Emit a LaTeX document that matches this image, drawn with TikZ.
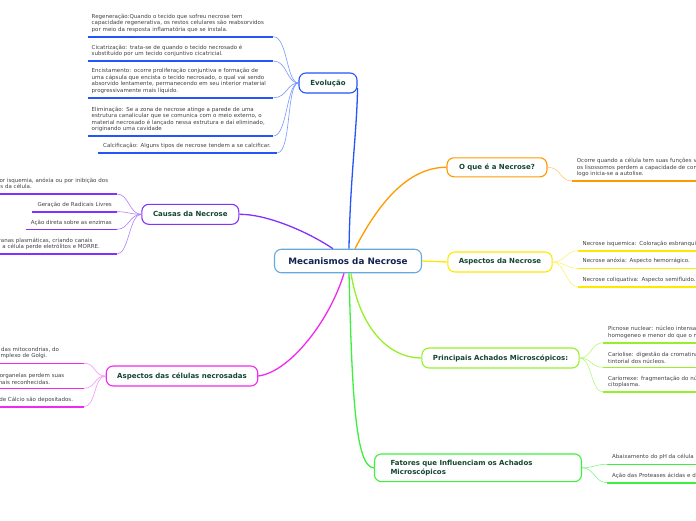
\documentclass[tikz,border=0pt]{standalone}
\usepackage{fontspec}
\setmainfont{DejaVu Sans}
\usetikzlibrary{calc, positioning}
\definecolor{centralline}{RGB}{100,170,225}
\definecolor{centraltext}{RGB}{20,35,80}
\definecolor{topictext}{RGB}{20,70,50}
\definecolor{leaftext}{RGB}{65,65,65}
\definecolor{evoC}{RGB}{35,85,250}
\definecolor{evoT}{RGB}{120,150,255}
\definecolor{oqueC}{RGB}{255,153,0}
\definecolor{oqueT}{RGB}{255,200,120}
\definecolor{causC}{RGB}{130,50,255}
\definecolor{causT}{RGB}{175,125,255}
\definecolor{aspC}{RGB}{255,232,0}
\definecolor{aspT}{RGB}{255,240,110}
\definecolor{achC}{RGB}{150,240,40}
\definecolor{achT}{RGB}{185,245,120}
\definecolor{fatC}{RGB}{60,240,60}
\definecolor{fatT}{RGB}{130,245,130}
\definecolor{celC}{RGB}{240,40,240}
\definecolor{celT}{RGB}{245,150,245}
\newcommand{\leaffont}{\fontsize{5.5}{6.5}\selectfont}
\newcommand{\topicfont}{\fontsize{7}{9}\selectfont\bfseries}

\begin{document}
\begin{tikzpicture}[x=1pt, y=-1pt,
  topic/.style={draw, fill=white, rounded corners=7pt, line width=1.1pt,
    font=\topicfont, text=topictext, minimum height=20pt, inner xsep=11pt},
  leaf/.style={font=\leaffont, text=leaftext, align=left, inner xsep=5pt, inner ysep=4pt},
  under/.style={line width=1.6pt},
  twig/.style={line width=0.6pt},
  limb/.style={line width=1.3pt}]
  \useasboundingbox (0,0) rectangle (696,520);
  \clip (0,0) rectangle (696,520);

  % Main branches from the centre
  \node[topic, draw=centralline, text=centraltext, font=\fontsize{8.8}{10}\selectfont\bfseries,
    minimum width=147pt, minimum height=23.5pt] (mec) at (348,261) {Mecanismos da Necrose};
  \node[topic, draw=evoC, minimum width=58pt] (evo) at (328,83) {Evolução};
  \node[topic, draw=oqueC, minimum width=100pt, minimum height=19pt] (oque) at (497,167.3) {O que é a Necrose?};
  \node[topic, draw=causC, minimum width=97pt] (causas) at (190.3,214.3) {Causas da Necrose};
  \node[topic, draw=aspC, minimum width=104pt] (asp) at (500,262) {Aspectos da Necrose};
  \node[topic, draw=achC, minimum width=157pt] (achados) at (500.5,358) {Principais Achados Microscópicos:};
  \node[topic, draw=fatC, text width=175pt, align=left, inner xsep=16pt, minimum height=27.7pt]
    (fatores) at (478,467.8) {Fatores que Influenciam os Achados\\Microscópicos};
  \node[topic, draw=celC, minimum width=150pt] (celulas) at (182,376) {Aspectos das células necrosadas};

  \draw[limb, evoC] ($(mec.north)+(1,0)$) .. controls (350,180) and (357,130) .. ($(evo.east)+(0,5)$);
  \draw[limb, oqueC] ($(mec.north)+(7,0)$) .. controls (380,200) and (410,167) .. (oque.west);
  \draw[limb, causC] ($(mec.north)+(-15,0)$) .. controls (305,230) and (265,214) .. (causas.east);
  \draw[limb, aspC] (mec.east) -- (asp.west);
  \draw[limb, achC] ($(mec.south)+(3,0)$) .. controls (360,330) and (390,358) .. (achados.west);
  \draw[limb, fatC] ($(mec.south)+(1,0)$) .. controls (352,390) and (355,468) .. (fatores.west);
  \draw[limb, celC] ($(mec.south)+(-4,0)$) .. controls (330,320) and (290,372) .. (celulas.east);

  % Evolução
  \node[leaf, text width=178pt, inner xsep=3.5pt, anchor=south west] (regen) at (88,36.7)
    {Regeneração:Quando o tecido que sofreu necrose tem\\capacidade regenerativa, os restos celulares são reabsorvidos\\por meio da resposta inflamatória que se instala.};
  \node[leaf, text width=178pt, inner xsep=3.5pt, anchor=south west] (cicat) at (88,61)
    {Cicatrização: trata-se de quando o tecido necrosado é\\substituído por um tecido conjuntivo cicatricial.};
  \node[leaf, text width=178pt, inner xsep=3.5pt, anchor=south west] (encist) at (88,97.7)
    {Encistamento: ocorre  proliferação conjuntiva e formação de\\uma cápsula que encista o tecido necrosado, o qual vai sendo\\absorvido lentamente, permanecendo em seu interior material\\progressivamente mais líquido.};
  \node[leaf, text width=178pt, inner xsep=3.5pt, anchor=south west] (elim) at (88,136)
    {Eliminação: Se a zona de necrose atinge a parede de uma\\estrutura canalicular que se comunica com o meio externo, o\\material necrosado é lançado nessa estrutura e daí eliminado,\\originando uma cavidade};
  \node[leaf, text width=169pt, anchor=south west] (calcif) at (98,152.7)
    {Calcificação: Alguns tipos de necrose tendem a se calcificar.};
  \foreach \n in {regen, cicat, encist, elim, calcif} {
    \draw[under, evoC] (\n.south west) -- (\n.south east);
    \draw[twig, evoT] (\n.south east) .. controls +(14,0) and +(-12,0) .. (evo.west);
  }

  % O que é a Necrose?
  \node[leaf, text width=160pt, anchor=south west] (defin) at (571.7,181)
    {Ocorre quando a célula tem suas funções vitais\\os lisossomos perdem a capacidade de conter\\logo inicia-se a autolise.};
  \draw[under, oqueC] (defin.south west) -- (defin.south east);
  \draw[twig, oqueT] (oque.east) .. controls +(14,0) and +(-12,0) .. (defin.south west);

  % Causas da Necrose
  \node[leaf, text width=152.5pt, anchor=south east] (isquem) at (117,194)
    {Pode ocorrer por isquemia, anóxia ou por inibição dos\\processos vitais  da célula.};
  \node[leaf, anchor=south east] (radic) at (117,211.7) {Geração de Radicais Livres};
  \node[leaf, anchor=south east] (enzim) at (117,229.3) {Ação direta sobre as enzimas};
  \node[leaf, text width=160pt, anchor=south east] (membr) at (117,254)
    {Lesão das membranas plasmáticas, criando canais\\através dos quais a célula perde eletrólitos e MORRE.};
  \foreach \n in {isquem, radic, enzim, membr} {
    \draw[under, causC] (\n.south west) -- (\n.south east);
    \draw[twig, causT] (\n.south east) .. controls +(12,0) and +(-12,0) .. (causas.west);
  }

  % Aspectos da Necrose
  \node[leaf, text width=150pt, inner xsep=4.5pt, anchor=south west] (isqa) at (578,250.7)
    {Necrose isquemica: Coloração esbranquiçada.};
  \node[leaf, text width=150pt, inner xsep=4.5pt, anchor=south west] (anox) at (578,268.3)
    {Necrose anóxia: Aspecto hemorrágico.};
  \node[leaf, text width=150pt, inner xsep=4.5pt, anchor=south west] (coliq) at (578,286.7)
    {Necrose coliquativa: Aspecto semifluido.};
  \foreach \n in {isqa, anox, coliq} {
    \draw[under, aspC] (\n.south west) -- (\n.south east);
    \draw[twig, aspT] (asp.east) .. controls +(12,0) and +(-12,0) .. (\n.south west);
  }

  % Principais Achados
  \node[leaf, text width=150pt, anchor=south west] (picn) at (603,342.7)
    {Picnose nuclear: núcleo intensamente basófilo,\\homogeneo e menor do que o normal.};
  \node[leaf, text width=150pt, anchor=south west] (cariol) at (603,367.3)
    {Cariolise: digestão da cromatina e perda da afinidade\\tintorial dos núcleos.};
  \node[leaf, text width=150pt, anchor=south west] (carior) at (603,392)
    {Cariorrexe: fragmentação do núcleo e dispersão no\\citoplasma.};
  \foreach \n in {picn, cariol, carior} {
    \draw[under, achC] (\n.south west) -- (\n.south east);
    \draw[twig, achT] (achados.east) .. controls +(12,0) and +(-12,0) .. (\n.south west);
  }

  % Fatores
  \node[leaf, text width=150pt, anchor=south west] (abaix) at (607,464.3)
    {Abaixamento do pH da célula pós-morte.};
  \node[leaf, text width=150pt, anchor=south west] (prot) at (607,482.7)
    {Ação das Proteases ácidas e digestivas.};
  \foreach \n in {abaix, prot} {
    \draw[under, fatC] (\n.south west) -- (\n.south east);
    \draw[twig, fatT] (fatores.east) .. controls +(12,0) and +(-12,0) .. (\n.south west);
  }

  % Aspectos das células necrosadas
  \node[leaf, text width=114pt, anchor=south east] (mitoc) at (84,363.3)
    {Há dilatação das mitocondrias, do\\retículo, e complexo de Golgi.};
  \node[leaf, text width=99pt, anchor=south east] (organ) at (84,388.3)
    {Muitas organelas perdem suas\\as normais reconhecidas.};
  \node[leaf, text width=92.6pt, anchor=south east] (calcio) at (84,406.7)
    {Sais de Cálcio são depositados.};
  \foreach \n in {mitoc, organ, calcio} {
    \draw[under, celC] (\n.south west) -- (\n.south east);
    \draw[twig, celT] (\n.south east) .. controls +(12,0) and +(-12,0) .. (celulas.west);
  }
\end{tikzpicture}
\end{document}
